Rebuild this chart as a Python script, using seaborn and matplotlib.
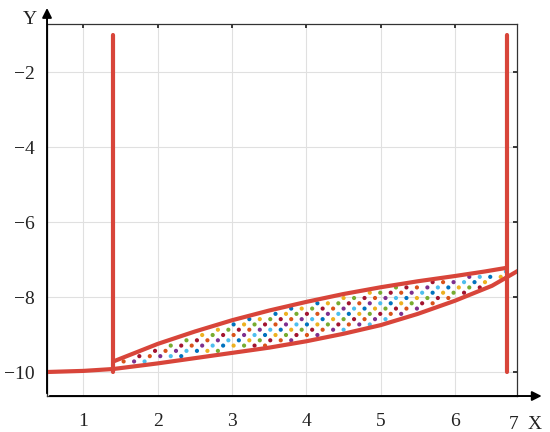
import numpy as np
import pandas as pd
import matplotlib
matplotlib.use("Agg")
import matplotlib.pyplot as plt
import seaborn as sns

# Data
lower_x = [0.5, 1.0, 1.4, 2.0, 2.5, 3.0, 3.5, 4.0, 4.5, 5.0, 5.5, 6.0, 6.5, 6.85]
lower_y = [-10.0, -9.97, -9.92, -9.77, -9.63, -9.49, -9.35, -9.18, -8.98, -8.75, -8.45, -8.10, -7.70, -7.30]
upper_x = [1.4, 2.0, 2.5, 3.0, 3.5, 4.0, 4.5, 5.0, 5.5, 6.0, 6.4, 6.7]
upper_y = [-9.72, -9.25, -8.92, -8.62, -8.36, -8.13, -7.92, -7.74, -7.58, -7.44, -7.32, -7.22]
vline_x = [1.4, 6.7]
vline_y = [-10.0, -1.0]
x_ticks = [1, 2, 3, 4, 5, 6]
y_ticks = [-2, -4, -6, -8, -10]
dot_colors = ["#0072BD", "#D95319", "#EDB120", "#7E2F8E", "#77AC30", "#4DBEEE", "#A2142F"]

red = "#D8453A"

sns.set_theme(style="white")
plt.rcParams['font.family'] = ['Liberation Serif', 'DejaVu Serif']

fig = plt.figure(figsize=(5.5, 4.32), dpi=100)
ax = fig.add_axes([0.0855, 0.0833, 0.855, 0.861])

# dotted fill pattern between the curves
step = 0.141
pts = []
for j, yy in enumerate(np.arange(-10.0, -7.0, step)):
    off = (j % 2) * step / 2
    for i, xx in enumerate(np.arange(1.4 + off, 6.7, step)):
        lo = np.interp(xx, lower_x, lower_y)
        hi = np.interp(xx, upper_x, upper_y)
        if lo + 0.07 < yy < hi - 0.07:
            pts.append((xx, yy, (i * 2 + j * 3) % 7))
dots = pd.DataFrame(pts, columns=["x", "y", "c"])
sns.scatterplot(data=dots, x="x", y="y", hue="c", palette=dot_colors, s=9,
                linewidth=0, legend=False, ax=ax, zorder=2)

lw = 3.0
sns.lineplot(x=lower_x, y=lower_y, color=red, lw=lw, ax=ax, zorder=3,
             sort=False, estimator=None)
sns.lineplot(x=upper_x, y=upper_y, color=red, lw=lw, ax=ax, zorder=3,
             sort=False, estimator=None)
for vx in vline_x:
    sns.lineplot(x=[vx, vx], y=vline_y, color=red, lw=lw, ax=ax, zorder=3,
                 sort=False, estimator=None)

ax.set_xlim(0.51, 6.84)
ax.set_ylim(-10.64, -0.72)
ax.set_xticks(x_ticks)
ax.set_yticks(y_ticks)
ax.set_yticklabels(["\u2212" + str(abs(v)) for v in y_ticks])
ax.grid(True, color="#e0e0e0", lw=0.8)
ax.tick_params(direction="in", length=3, top=True, right=True, labelsize=14,
               colors="#222222", pad=9)
ax.tick_params(axis="x", pad=12)
for s in ax.spines.values():
    s.set_color("#333333")
    s.set_linewidth(0.9)
ax.set_xlabel("")
ax.set_ylabel("")

# axis arrows
ax.annotate("", xy=(0.0855, 0.988), xytext=(0.0855, 0.0833), xycoords="figure fraction",
            arrowprops=dict(arrowstyle="-|>", color="black", lw=1.4, mutation_scale=14))
ax.annotate("", xy=(0.99, 0.0833), xytext=(0.0855, 0.0833), xycoords="figure fraction",
            arrowprops=dict(arrowstyle="-|>", color="black", lw=1.4, mutation_scale=14))
fig.text(0.055, 0.955, "Y", fontsize=14, ha="center", va="center", color="#222222")
fig.text(0.933, 0.017, "7", fontsize=14, ha="center", va="center", color="#222222")
fig.text(0.972, 0.017, "X", fontsize=14, ha="center", va="center", color="#222222")

fig.savefig("out.png", dpi=100)
